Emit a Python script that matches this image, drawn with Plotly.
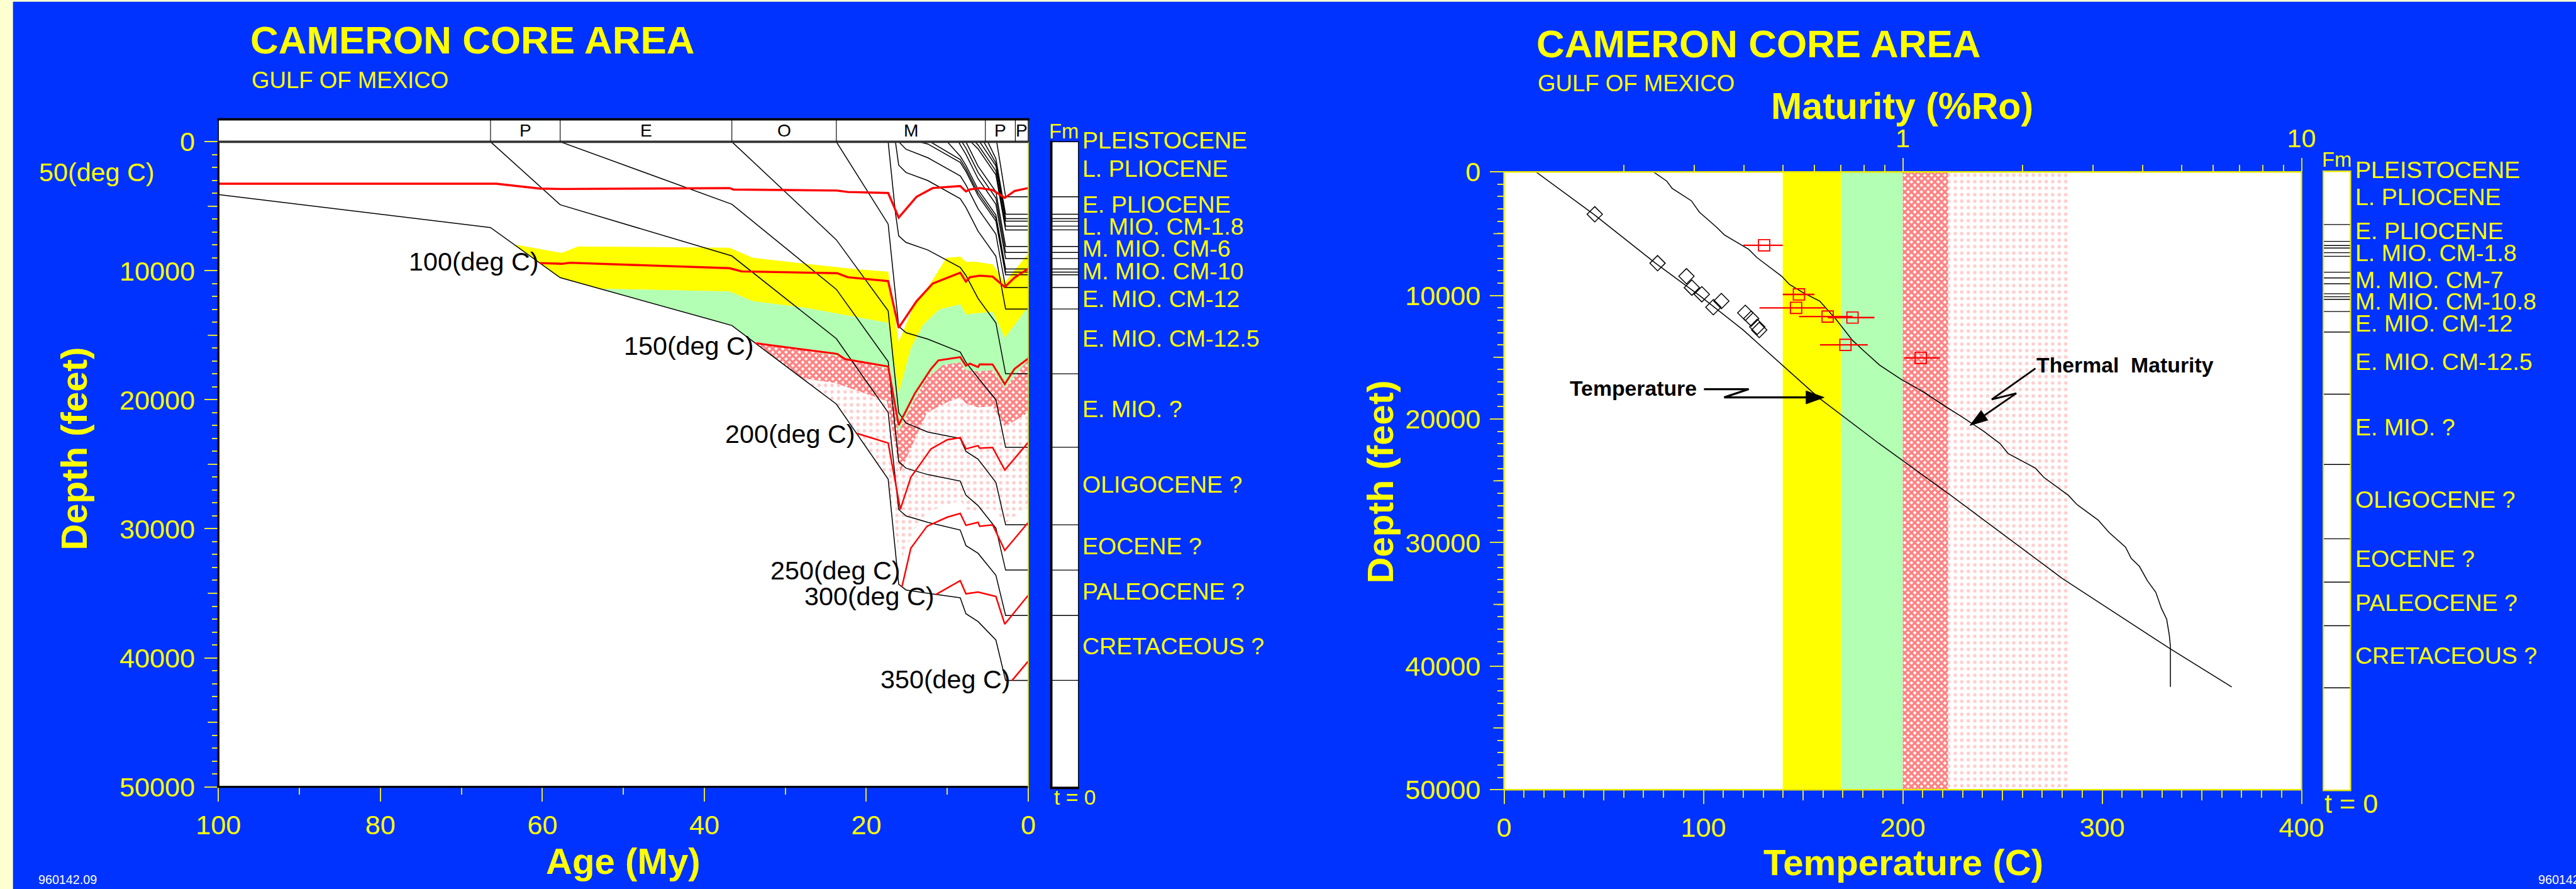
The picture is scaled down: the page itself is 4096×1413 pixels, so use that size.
import plotly.graph_objects as go

# ======================= DATA =======================
# ---- Left panel: burial history (age My, depth ft) ----
age_tick_vals = [100, 80, 60, 40, 20, 0]
depth_tick_vals = [0, 10000, 20000, 30000, 40000, 50000]
period_bounds = [100, 66.4, 57.8, 36.6, 23.7, 5.3, 1.6, 0]
period_labels = ['', 'P', 'E', 'O', 'M', 'P', 'P']

hzA_age = [100, 66.4, 57.8, 36.6, 23.7, 17.3, 16.0, 15.1, 12.4, 8.4, 7.7, 6.2, 4.0, 2.8, 0]
hzA_dep = [4090, 6650, 10530, 14240, 20330, 26150, 34300, 34740, 35000, 35350, 36580, 37190, 38620, 41750, 41750]
hzB_age = [66.4, 57.8, 36.6, 23.7, 17.3, 16.0, 15.1, 12.4, 8.4, 7.7, 6.2, 4.0, 2.8, 0]
hzB_dep = [0, 4880, 8850, 15260, 20980, 28500, 29000, 29500, 30100, 31300, 31900, 33600, 36720, 36720]
hzC_age = [57.8, 36.6, 23.7, 17.3, 16.0, 15.1, 12.4, 8.4, 7.7, 6.2, 4.0, 2.8, 0]
hzC_dep = [0, 4840, 11440, 17040, 24800, 25300, 25800, 26300, 27400, 28200, 29950, 33200, 33200]
hzD_age = [36.6, 23.7, 17.3, 16.0, 15.1, 12.4, 8.4, 7.7, 6.2, 4.0, 2.8, 0]
hzD_dep = [0, 7600, 13110, 21000, 21800, 22500, 23000, 24000, 24600, 26400, 29690, 29690]
hzE_age = [23.7, 17.3, 16.0, 15.1, 12.4, 8.4, 7.7, 6.2, 4.0, 2.8, 0]
hzE_dep = [0, 6380, 14300, 14800, 15300, 16300, 17100, 18300, 20000, 23680, 23680]
hzF_age = [17.3, 16.4, 16.0, 15.1, 12.4, 8.4, 7.7, 6.2, 4.0, 2.8, 0]
hzF_dep = [0, 5520, 7290, 7800, 8390, 9740, 10360, 12150, 14040, 17985, 17985]
hzG_age = [16.4, 16.0, 15.1, 12.4, 8.4, 7.7, 6.2, 4.0, 2.8, 0]
hzG_dep = [0, 1810, 2380, 3010, 4410, 5090, 6930, 8870, 12963, 12963]
hzH_age = [16.0, 15.1, 12.4, 8.4, 7.7, 6.2, 4.0, 2.8, 0]
hzH_dep = [0, 580, 1240, 2650, 3340, 5200, 7160, 11300, 11300]
hzI_age = [13.5, 12.4, 8.4, 7.7, 6.2, 4.0, 2.8, 0]
hzI_dep = [0, 175, 1600, 2300, 4170, 6140, 10310, 10310]
hzJ_age = [12.1, 8.4, 7.7, 6.2, 4.0, 2.8, 0]
hzJ_dep = [0, 1380, 2090, 3950, 5920, 10101, 10101]
hzK_age = [10.0, 8.4, 7.7, 6.2, 4.0, 2.8, 0]
hzK_dep = [0, 1120, 1830, 3700, 5680, 9860, 9860]
hzL_age = [8.6, 8.4, 7.7, 6.2, 4.0, 2.8, 0]
hzL_dep = [0, 250, 980, 2860, 4840, 9050, 9050]
hzM_age = [8.2, 7.7, 6.2, 4.0, 2.8, 0]
hzM_dep = [0, 490, 2370, 4360, 8583, 8583]
hzN_age = [7.7, 6.2, 4.0, 2.8, 0]
hzN_dep = [0, 1890, 3880, 8115, 8115]
hzO_age = [7.1, 6.2, 4.0, 2.8, 0]
hzO_dep = [0, 550, 2560, 6831, 6831]
hzP_age = [6.6, 6.2, 4.0, 2.8, 0]
hzP_dep = [0, 240, 2260, 6539, 6539]
hzQ_age = [6.0, 4.0, 2.8, 0]
hzQ_dep = [0, 1860, 6159, 6159]
hzR_age = [5.5, 4.0, 2.8, 0]
hzR_dep = [0, 1650, 5955, 5955]
hzS_age = [5.0, 4.0, 2.8, 0]
hzS_dep = [0, 1310, 5620, 5620]
hzT_age = [3.9, 2.8, 0]
hzT_dep = [0, 4261, 4261]

# isotherms
iso50_age = [100, 65.7, 60.3, 57.6, 36.9, 36.4, 23.6, 22.3, 17.3, 16.0, 13.8, 11.8, 8.4, 7.7, 7.2, 6.0, 4.4, 2.9, 1.7, 0]
iso50_dep = [3250, 3250, 3630, 3660, 3590, 3700, 3780, 3890, 3970, 5880, 4270, 3590, 3430, 3850, 3700, 3590, 3740, 4350, 3820, 3590]
iso100_age = [60.3, 57.6, 56.6, 36.9, 35.4, 23.6, 22.3, 17.3, 16.0, 13.8, 11.8, 8.4, 7.7, 7.2, 6.0, 4.4, 2.9, 1.7, 0]
iso100_dep = [9400, 9460, 9380, 9800, 10050, 10190, 10500, 10800, 14420, 12360, 10990, 10150, 10840, 10500, 10380, 10450, 11260, 10530, 9840]
iso150_age = [33.7, 23.6, 22.6, 17.3, 16.0, 14.0, 12.0, 11.1, 8.4, 7.7, 7.2, 6.2, 6.0, 4.4, 2.9, 1.7, 0]
iso150_dep = [15610, 16440, 16850, 17420, 21960, 19500, 17600, 16950, 16690, 17360, 17200, 17460, 17250, 17260, 18790, 17600, 16800]
iso200_age = [21.2, 17.3, 15.8, 14.5, 12.0, 10.0, 8.4, 7.7, 6.2, 6.0, 4.4, 2.9, 0]
iso200_dep = [22600, 23350, 28500, 26000, 23800, 23100, 22940, 23800, 23560, 23750, 23700, 25440, 23300]
iso250_age = [15.6, 14.5, 12.5, 10.0, 8.4, 7.7, 6.2, 6.0, 4.4, 2.9, 0]
iso250_dep = [34500, 31500, 29800, 29100, 28810, 29730, 29500, 29800, 29700, 31670, 29500]
iso300_age = [11.4, 8.4, 7.7, 6.2, 4.0, 2.9, 0]
iso300_dep = [35090, 34020, 35040, 34900, 35250, 37390, 35150]
iso350_age = [2.0, 0]
iso350_dep = [41750, 40260]

iso_lab_txt = ['100(deg C)', '150(deg C)', '200(deg C)', '250(deg C)', '300(deg C)', '350(deg C)']
iso_lab_age = [60.3, 33.7, 21.2, 15.6, 11.4, 2.0]
iso_lab_dep = [9300, 15830, 22670, 33250, 35250, 41660]

# maturity (%Ro) contours on burial plot
ro05_age = [63.5, 57.6, 55.6, 36.9, 34.0, 21.2, 17.3, 16.0, 14.0, 12.4, 10.1, 8.4, 7.7, 6.4, 4.4, 2.9, 0]
ro05_dep = [7960, 8620, 8120, 8210, 9000, 9890, 10070, 15500, 12500, 11290, 9000, 8900, 9300, 9310, 9500, 10910, 8640]
ro07_age = [52.9, 36.9, 34.0, 27.3, 17.3, 16.0, 14.5, 13.0, 11.0, 8.4, 7.7, 6.4, 4.4, 2.9, 0]
ro07_dep = [11390, 11600, 12360, 12890, 14040, 19500, 16000, 14200, 13000, 12600, 13400, 13300, 13200, 15200, 12800]
ro10_age = [34.0, 23.6, 17.3, 16.0, 14.5, 12.5, 10.5, 8.4, 7.7, 6.2, 4.4, 2.9, 0]
ro10_dep = [15470, 16600, 17600, 22500, 20500, 18300, 17300, 17100, 17700, 17800, 17700, 19100, 16900]
ro13_age = [27.9, 23.9, 17.5, 15.8, 14.3, 12.5, 10.0, 8.4, 7.7, 6.2, 4.4, 2.9, 0]
ro13_dep = [18350, 18700, 20100, 25600, 23500, 21000, 20200, 19800, 20300, 20600, 20500, 22100, 21000]
ro26_age = [17.0, 15.8, 14.0, 12.0, 8.4, 7.7, 6.2, 4.4, 2.9, 0]
ro26_dep = [28030, 32500, 30000, 28600, 27800, 28500, 28600, 28400, 29600, 28300]

# formation column
fm_bounds = [4261, 5620, 5955, 6159, 6539, 6831, 8115, 8583, 9050, 9860, 10101, 10310,
             11300, 12963, 17985, 23680, 29690, 33200, 36720, 41750]
fm_left_names = ['PLEISTOCENE', 'L. PLIOCENE', 'E. PLIOCENE', 'L. MIO. CM-1.8', 'M. MIO. CM-6',
                 'M. MIO. CM-10', 'E. MIO. CM-12', 'E. MIO. CM-12.5', 'E. MIO. ?', 'OLIGOCENE ?',
                 'EOCENE ?', 'PALEOCENE ?', 'CRETACEOUS ?']
fm_left_dep = [-120, 2070, 4850, 6560, 8290, 10020, 12200, 15270, 20700, 26540, 31360, 34860, 39100]
fm_right_names = ['PLEISTOCENE', 'L. PLIOCENE', 'E. PLIOCENE', 'L. MIO. CM-1.8', 'M. MIO. CM-7',
                  'M. MIO. CM-10.8', 'E. MIO. CM-12', 'E. MIO. CM-12.5', 'E. MIO. ?', 'OLIGOCENE ?',
                  'EOCENE ?', 'PALEOCENE ?', 'CRETACEOUS ?']
fm_right_dep = [-160, 2020, 4780, 6560, 8740, 10500, 12250, 15350, 20660, 26530, 31300, 34860, 39120]

# ---- Right panel: temperature & maturity vs depth ----
temp_tick_vals = [0, 100, 200, 300, 400]
ro_tick_vals = [1, 10]
ro_minor_vals = [0.2, 0.3, 0.4, 0.5, 0.6, 0.7, 0.8, 0.9, 2, 3, 4, 5, 6, 7, 8, 9]
ro_zone_edges = [0.5, 0.7, 1.0, 1.3, 2.6]

temp_line_T = [16, 45, 76, 98, 120, 158, 188, 224, 280, 334, 365]
temp_line_dep = [0, 3430, 7390, 10000, 12800, 18300, 21970, 26170, 32900, 38580, 41680]
temp_obs_T = [45.5, 77, 91.5, 94.2, 99.2, 109, 105, 121, 124, 127, 128]
temp_obs_dep = [3430, 7390, 8445, 9365, 9900, 10450, 10950, 11405, 11873, 12542, 12793]

ro_line = [0.199, 0.237, 0.256, 0.264, 0.295, 0.309, 0.340, 0.357, 0.411, 0.431, 0.497, 0.520,
           0.563, 0.619, 0.681, 0.748, 0.797, 0.875, 0.993, 1.127, 1.279, 1.406, 1.595, 1.754,
           1.837, 2.152, 2.256, 2.60, 2.73, 3.09, 3.29, 3.62, 3.74, 3.92, 4.11, 4.31, 4.45,
           4.59, 4.66, 4.69, 4.69]
ro_line_dep = [0, 0, 753, 1338, 2341, 3261, 4431, 5100, 6271, 6940, 8445, 9114, 9783, 10452,
               11957, 13629, 14465, 15635, 16806, 17809, 18980, 19816, 20987, 21990, 22790,
               23978, 24708, 26168, 26898, 28175, 29179, 30365, 31277, 31916, 33102, 34015,
               35292, 36204, 37482, 38394, 41679]
ro_obs = [0.449, 0.549, 0.540, 0.648, 0.748, 0.718, 1.109]
ro_obs_dep = [5936, 9916, 11003, 11706, 11789, 13997, 15050]
ro_obs_lo = [0.398, 0.500, 0.437, 0.549, 0.648, 0.620, 1.009]
ro_obs_hi = [0.500, 0.600, 0.638, 0.748, 0.849, 0.817, 1.239]

# ======================= LAYOUT HELPERS =======================
W, H = 4096, 1413
RW, RH = 4364, 1505
S = W / RW
def fx(p): return p / RW
def fy(p): return 1 - p / RH
def fs(v): return v * S
def fi(v): return int(round(v * S))

# plot frames in reference pixels
L_X0, L_X1, L_Y0, L_Y1 = 370, 1742, 240, 1332
R_X0, R_X1, R_Y0, R_Y1 = 2548, 3899, 291, 1337
DMAX = depth_tick_vals[-1]
def dpx_left(d): return L_Y0 + d / DMAX * (L_Y1 - L_Y0)
def dpx_right(d): return R_Y0 + d / DMAX * (R_Y1 - R_Y0)

BLUE = '#0033ff'
YEL = '#ffff00'
TICK = '#e6e633'
FONT = 'Liberation Sans, Arial, Helvetica, sans-serif'

fig = go.Figure()

# ---------------- Left panel traces ----------------
def zone_poly(up_a, up_d, lo_a, lo_d):
    u0, l0 = up_a[0], lo_a[0]
    mid = sorted((a, d) for a, d in zip(hzA_age, hzA_dep) if l0 < a < u0)
    xs = list(up_a) + list(lo_a[::-1]) + [m[0] for m in mid] + [up_a[0]]
    ys = list(up_d) + list(lo_d[::-1]) + [m[1] for m in mid] + [up_d[0]]
    return xs, ys

dense_pat = dict(shape='x', fgcolor='#ff0000', bgcolor='#ffffff', size=fs(8), solidity=0.7)
dot_pat = dict(shape='.', fgcolor='#ff9c9c', bgcolor='#ffffff', size=fs(11), solidity=0.22)

zones = [
    ((ro05_age, ro05_dep, ro07_age, ro07_dep), dict(fillcolor=YEL)),
    ((ro07_age, ro07_dep, ro10_age, ro10_dep), dict(fillcolor='#b3ffb3')),
    ((ro10_age, ro10_dep, ro13_age, ro13_dep), dict(fillpattern=dense_pat)),
    ((ro13_age, ro13_dep, ro26_age, ro26_dep), dict(fillpattern=dot_pat)),
]
for args, st in zones:
    xs, ys = zone_poly(*args)
    fig.add_trace(go.Scatter(x=xs, y=ys, mode='lines', fill='toself', line=dict(width=0),
                             xaxis='x', yaxis='y', hoverinfo='skip', showlegend=False, **st))

horizons = [(hzA_age, hzA_dep), (hzB_age, hzB_dep), (hzC_age, hzC_dep), (hzD_age, hzD_dep),
            (hzE_age, hzE_dep), (hzF_age, hzF_dep), (hzG_age, hzG_dep), (hzH_age, hzH_dep),
            (hzI_age, hzI_dep), (hzJ_age, hzJ_dep), (hzK_age, hzK_dep), (hzL_age, hzL_dep),
            (hzM_age, hzM_dep), (hzN_age, hzN_dep), (hzO_age, hzO_dep), (hzP_age, hzP_dep),
            (hzQ_age, hzQ_dep), (hzR_age, hzR_dep), (hzS_age, hzS_dep), (hzT_age, hzT_dep)]
for a, d in horizons:
    fig.add_trace(go.Scatter(x=a, y=d, mode='lines', line=dict(color='black', width=fs(1.6)),
                             xaxis='x', yaxis='y', hoverinfo='skip', showlegend=False))

isotherms = [(iso50_age, iso50_dep, 3.6), (iso100_age, iso100_dep, 3.6), (iso150_age, iso150_dep, 3.2),
             (iso200_age, iso200_dep, 2.6), (iso250_age, iso250_dep, 2.6), (iso300_age, iso300_dep, 2.6),
             (iso350_age, iso350_dep, 2.6)]
for a, d, w in isotherms:
    fig.add_trace(go.Scatter(x=a, y=d, mode='lines', line=dict(color='#ff0000', width=fs(w)),
                             xaxis='x', yaxis='y', hoverinfo='skip', showlegend=False))

# ---------------- Right panel traces ----------------
# base subplot x2 = maturity (log, top); overlay x3 = temperature (bottom)
band_styles = [dict(fillcolor=YEL), dict(fillcolor='#b3ffb3'),
               dict(fillpattern=dense_pat), dict(fillpattern=dot_pat)]
for lo, hi, st in zip(ro_zone_edges[:-1], ro_zone_edges[1:], band_styles):
    fig.add_trace(go.Scatter(x=[lo, hi, hi, lo, lo], y=[0, 0, DMAX, DMAX, 0], mode='lines',
                             fill='toself', line=dict(width=0), xaxis='x2', yaxis='y2',
                             hoverinfo='skip', showlegend=False, **st))

fig.add_trace(go.Scatter(x=ro_line, y=ro_line_dep, mode='lines',
                         line=dict(color='black', width=fs(1.6)), xaxis='x2', yaxis='y2',
                         hoverinfo='skip', showlegend=False))
fig.add_trace(go.Scatter(x=ro_obs, y=ro_obs_dep, mode='markers',
                         marker=dict(symbol='square-open', size=fs(19), color='#ff0000',
                                     line=dict(width=fs(2))),
                         error_x=dict(type='data', symmetric=False,
                                      array=[h - c for h, c in zip(ro_obs_hi, ro_obs)],
                                      arrayminus=[c - l for c, l in zip(ro_obs, ro_obs_lo)],
                                      color='#ff0000', thickness=fs(2.5), width=0),
                         xaxis='x2', yaxis='y2', hoverinfo='skip', showlegend=False))
fig.add_trace(go.Scatter(x=temp_line_T, y=temp_line_dep, mode='lines',
                         line=dict(color='black', width=fs(1.6)), xaxis='x3', yaxis='y2',
                         hoverinfo='skip', showlegend=False))
fig.add_trace(go.Scatter(x=temp_obs_T, y=temp_obs_dep, mode='markers',
                         marker=dict(symbol='diamond-open', size=fs(20), color='black',
                                     line=dict(width=fs(1.6))),
                         xaxis='x3', yaxis='y2', hoverinfo='skip', showlegend=False))

# ---------------- Axes ----------------
tickfont = dict(family=FONT, size=fs(46), color=YEL)
common = dict(showgrid=False, zeroline=False, showline=False, ticks='outside', automargin=False,
              tickcolor=TICK, tickwidth=fs(2), tickfont=tickfont)

fig.update_layout(
    width=W, height=H, autosize=False,
    margin=dict(l=0, r=0, t=0, b=0, pad=0),
    paper_bgcolor=BLUE, plot_bgcolor='white',
    hovermode=False, showlegend=False,
    xaxis=dict(domain=[fx(L_X0), fx(L_X1)], range=[100, 0], anchor='y',
               tickvals=age_tick_vals, ticklen=fs(24), ticklabelstandoff=0,
               minor=dict(dtick=10, tick0=0, ticks='outside', ticklen=fs(12),
                          tickcolor=TICK, tickwidth=fs(2)), **common),
    yaxis=dict(domain=[fy(L_Y1), fy(L_Y0)], range=[DMAX, 0], anchor='x',
               tickvals=depth_tick_vals, tickformat='d', ticklen=fs(23), ticklabelstandoff=fi(6),
               minor=dict(dtick=1000, tick0=0, ticks='outside', ticklen=fs(10),
                          tickcolor=TICK, tickwidth=fs(2)), **common),
    xaxis2=dict(type='log', range=[-1, 1], domain=[fx(R_X0), fx(R_X1)], side='top', anchor='y2',
                tickvals=ro_tick_vals, ticktext=[str(v) for v in ro_tick_vals],
                ticklen=fs(23), ticklabelstandoff=0,
                minor=dict(tickmode='array', tickvals=ro_minor_vals, ticks='outside',
                           ticklen=fs(11), tickcolor=TICK, tickwidth=fs(2)),
                showgrid=False, zeroline=False, showline=False, ticks='outside', automargin=False,
                tickcolor=TICK, tickwidth=fs(2), tickfont=dict(family=FONT, size=fs(44), color=YEL)),
    yaxis2=dict(domain=[fy(R_Y1), fy(R_Y0)], range=[DMAX, 0], anchor='x2',
                tickvals=depth_tick_vals, tickformat='d', ticklen=fs(23), ticklabelstandoff=fi(6),
                minor=dict(dtick=1000, tick0=0, ticks='outside', ticklen=fs(10),
                           tickcolor=TICK, tickwidth=fs(2)), **common),
    xaxis3=dict(domain=[fx(R_X0), fx(R_X1)], range=[0, 400], overlaying='x2', side='bottom',
                anchor='y2', tickvals=temp_tick_vals, ticklen=fs(23), ticklabelstandoff=0,
                minor=dict(dtick=10, tick0=0, ticks='outside', ticklen=fs(12),
                           tickcolor=TICK, tickwidth=fs(2)), **common),
)

shapes = []
def line_px(x0, y0, x1, y1, color, w):
    shapes.append(dict(type='line', xref='paper', yref='paper', x0=fx(x0), y0=fy(y0),
                       x1=fx(x1), y1=fy(y1), line=dict(color=color, width=fs(w))))

# page frame strips
shapes.append(dict(type='rect', xref='paper', yref='paper', x0=0, x1=fx(22), y0=0, y1=1,
                   fillcolor='#ffffd0', line=dict(width=0), layer='below'))
shapes.append(dict(type='rect', xref='paper', yref='paper', x0=0, x1=1, y0=fy(3), y1=1,
                   fillcolor='#ffffd0', line=dict(width=0), layer='below'))

# medium ticks (5000 ft / 50 C)
mid_depths = [(a + b) / 2 for a, b in zip(depth_tick_vals[:-1], depth_tick_vals[1:])]
for v in mid_depths:
    shapes.append(dict(type='line', xref='paper', yref='y', x0=fx(L_X0 - 18), x1=fx(L_X0), y0=v, y1=v,
                       line=dict(color=TICK, width=fs(2))))
    shapes.append(dict(type='line', xref='paper', yref='y2', x0=fx(R_X0 - 18), x1=fx(R_X0), y0=v, y1=v,
                       line=dict(color=TICK, width=fs(2))))
for v in [(a + b) / 2 for a, b in zip(temp_tick_vals[:-1], temp_tick_vals[1:])]:
    shapes.append(dict(type='line', xref='x3', yref='paper', x0=v, x1=v, y0=fy(R_Y1), y1=fy(R_Y1 + 18),
                       line=dict(color=TICK, width=fs(2))))

# left plot borders
line_px(L_X0, L_Y0, L_X0, L_Y1 + 1, 'black', 3.5)
line_px(L_X0 - 2, L_Y1, L_X1, L_Y1, 'black', 3.5)
line_px(L_X1, 202, L_X1, L_Y1 + 1, '#d8d800', 2)
# period bar
shapes.append(dict(type='rect', xref='paper', yref='paper', x0=fx(L_X0), x1=fx(L_X1),
                   y0=fy(L_Y0), y1=fy(202), fillcolor='white', line=dict(color='black', width=fs(1.5))))
line_px(L_X0 - 2, 202, L_X1 + 2, 202, 'black', 4)
line_px(L_X0, L_Y0, L_X1, L_Y0, '#333333', 4)
for b in period_bounds[1:-1]:
    shapes.append(dict(type='line', xref='x', yref='paper', x0=b, x1=b, y0=fy(L_Y0), y1=fy(202),
                       line=dict(color='black', width=fs(1.2))))

# left formation column
shapes.append(dict(type='rect', xref='paper', yref='paper', x0=fx(1781), x1=fx(1827),
                   y0=fy(1333), y1=fy(L_Y0), fillcolor='white', line=dict(color='black', width=fs(1.5))))
line_px(1781, L_Y0 - 2, 1781, 1335, 'black', 4)
line_px(1779, 1334, 1828, 1334, 'black', 4)
for d in fm_bounds:
    shapes.append(dict(type='line', xref='paper', yref='y', x0=fx(1781), x1=fx(1827), y0=d, y1=d,
                       line=dict(color='black', width=fs(1.5))))

# right plot border
shapes.append(dict(type='rect', xref='paper', yref='paper', x0=fx(R_X0), x1=fx(R_X1),
                   y0=fy(R_Y1), y1=fy(R_Y0), line=dict(color='#e8e800', width=fs(2.5))))
# right formation column
shapes.append(dict(type='rect', xref='paper', yref='paper', x0=fx(3936), x1=fx(3982),
                   y0=fy(1338), y1=fy(290), fillcolor='white', line=dict(color='#e8e800', width=fs(2.5))))
for d in fm_bounds:
    shapes.append(dict(type='line', xref='paper', yref='y2', x0=fx(3937), x1=fx(3981), y0=d, y1=d,
                       line=dict(color='black', width=fs(1.5))))

# annotation arrows (right panel)
def path_px(pts, closed=False):
    p = 'M ' + ' L '.join(f'{fx(x):.5f} {fy(y):.5f}' for x, y in pts)
    return p + (' Z' if closed else '')
shapes.append(dict(type='path', xref='paper', yref='paper',
                   path=path_px([(2886.7, 658.8), (2962.5, 658.8), (2920.9, 672.8), (3062, 672.8)]),
                   line=dict(color='black', width=fs(3.5))))
shapes.append(dict(type='path', xref='paper', yref='paper',
                   path=path_px([(3059.7, 661.8), (3059.7, 683.8), (3090.2, 672.8)], True),
                   fillcolor='black', line=dict(color='black', width=fs(1))))
shapes.append(dict(type='path', xref='paper', yref='paper',
                   path=path_px([(3448.2, 623.7), (3374.2, 676.3), (3415.8, 665.8), (3361.9, 703.1)]),
                   line=dict(color='black', width=fs(3))))
shapes.append(dict(type='path', xref='paper', yref='paper',
                   path=path_px([(3367.6, 711.3), (3356.2, 694.9), (3337.2, 720.2)], True),
                   fillcolor='black', line=dict(color='black', width=fs(1))))

fig.update_layout(shapes=shapes)

# ---------------- Text ----------------
ann = []
def txt(x, y, text, size, color=YEL, xanchor='left', yanchor='middle', bold=False, angle=0):
    ann.append(dict(x=fx(x), y=fy(y), xref='paper', yref='paper', showarrow=False,
                    text=f'<b>{text}</b>' if bold else text, textangle=angle,
                    font=dict(family=FONT, size=fs(size), color=color),
                    xanchor=xanchor, yanchor=yanchor))

# titles
txt(422, 68, 'CAMERON CORE AREA', 66, bold=True)
txt(424, 136, 'GULF OF MEXICO', 39)
txt(2601, 74, 'CAMERON CORE AREA', 66, bold=True)
txt(2603, 141, 'GULF OF MEXICO', 39)
txt(3222, 180, 'Maturity (%Ro)', 63, xanchor='center', bold=True)
# axis titles
txt(1056, 1458, 'Age (My)', 62, xanchor='center', bold=True)
txt(125, 760, 'Depth (feet)', 62, xanchor='center', bold=True, angle=-90)
txt(3224, 1460, 'Temperature (C)', 62, xanchor='center', bold=True)
txt(2338, 816, 'Depth (feet)', 62, xanchor='center', bold=True, angle=-90)
# extra labels
txt(264, 292, '50(deg C)', 44, xanchor='right')
txt(1802, 222, 'Fm', 35, xanchor='center')
txt(3959, 270, 'Fm', 35, xanchor='center')
txt(1784, 1350, 't = 0', 36)
txt(3936, 1360, 't = 0', 46)
txt(63, 1489, '960142.09', 21, color='white')
txt(4298, 1489, '960142.09', 21, color='white')
txt(2657, 657, 'Temperature', 36, color='black', bold=True)
txt(3448, 618, 'Thermal  Maturity', 36, color='black', bold=True)

# period labels
for lab, a0, a1 in zip(period_labels, period_bounds[:-1], period_bounds[1:]):
    if lab:
        ann.append(dict(x=(a0 + a1) / 2, y=fy(221), xref='x', yref='paper', showarrow=False,
                        text=lab, font=dict(family=FONT, size=fs(30), color='black'),
                        xanchor='center', yanchor='middle'))
# isotherm labels
for t, a, d in zip(iso_lab_txt, iso_lab_age, iso_lab_dep):
    ann.append(dict(x=a, y=d, xref='x', yref='y', showarrow=False, text=t,
                    font=dict(family=FONT, size=fs(44), color='black'),
                    xanchor='right', yanchor='middle'))
# formation labels
for t, d in zip(fm_left_names, fm_left_dep):
    txt(1832, dpx_left(d), t, 40)
for t, d in zip(fm_right_names, fm_right_dep):
    txt(3988, dpx_right(d), t, 40)

fig.update_layout(annotations=ann)
fig.write_html('out.html')
